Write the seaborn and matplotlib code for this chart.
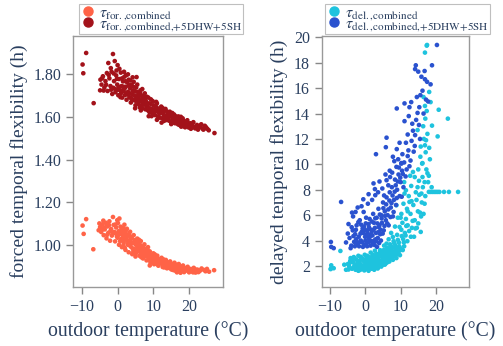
import matplotlib
matplotlib.use("Agg")
import pandas as pd
import matplotlib.pyplot as plt
import seaborn as sns
from matplotlib.lines import Line2D
from matplotlib.ticker import FormatStrFormatter

# forced flexibility (h) vs outdoor temperature (degC)
for_combined = [
    (-9.8, 1.092), (-8.8, 1.122), (-9.5, 1.053), (-6.8, 0.981), (-1.3, 1.132), (27.0, 0.883),
    (-4.9, 1.085), (-4.6, 1.062), (-4.2, 1.098), (-3.9, 1.047), (-3.6, 1.074), (-3.3, 1.105),
    (-3.1, 1.032), (-2.8, 1.088), (-2.6, 1.058), (-2.3, 1.112), (-2.1, 1.021), (-1.8, 1.076),
    (-1.6, 1.045), (-1.1, 1.095), (-0.9, 1.062), (-0.7, 1.018), (-0.4, 1.083), (-0.2, 1.041),
    (0.1, 1.104), (0.3, 1.066), (0.4, 1.002), (0.6, 1.052), (0.8, 1.087), (1.0, 1.029),
    (1.2, 0.991), (1.3, 1.071), (1.5, 1.043), (1.7, 1.012), (1.9, 1.096), (2.1, 1.058),
    (2.2, 0.978), (2.4, 1.034), (2.6, 1.077), (2.8, 1.005), (3.0, 1.049), (3.1, 0.967),
    (3.3, 1.021), (3.5, 1.063), (3.7, 0.993), (3.9, 1.038), (4.1, 0.958), (4.3, 1.011),
    (4.5, 1.047), (4.7, 0.982), (4.9, 1.024), (5.1, 0.962), (5.3, 0.998), (5.5, 1.031),
    (5.7, 0.973), (5.9, 1.008), (6.1, 0.951), (6.3, 0.987), (6.5, 1.019), (6.7, 0.962),
    (6.9, 0.994), (7.1, 0.938), (7.3, 0.975), (7.5, 1.004), (7.7, 0.951), (7.9, 0.982),
    (8.1, 0.929), (8.3, 0.963), (8.5, 0.991), (8.8, 0.942), (9.0, 0.971), (9.2, 0.918),
    (9.5, 0.953), (9.7, 0.934), (10.0, 0.962), (10.2, 0.911), (10.5, 0.944), (10.8, 0.926),
    (11.1, 0.951), (11.4, 0.904), (11.7, 0.932), (12.0, 0.917), (12.3, 0.941), (12.6, 0.898),
    (12.9, 0.925), (13.2, 0.909), (13.5, 0.931), (13.8, 0.892), (14.1, 0.916), (14.4, 0.903),
    (14.7, 0.924), (15.0, 0.887), (15.3, 0.911), (15.6, 0.897), (15.9, 0.918), (16.2, 0.881),
    (16.5, 0.904), (16.8, 0.891), (17.1, 0.912), (17.4, 0.877), (17.7, 0.898), (18.0, 0.886),
    (18.3, 0.905), (18.6, 0.874), (18.9, 0.893), (19.2, 0.882), (19.6, 0.899), (20.0, 0.873),
    (20.4, 0.889), (20.9, 0.878), (21.3, 0.894), (21.8, 0.872), (22.3, 0.886), (22.9, 0.879),
    (23.5, 0.891), (24.2, 0.884), (25.0, 0.889), (25.6, 0.876),
    (0.0, 1.035), (0.9, 1.061), (1.8, 1.025), (2.5, 1.048), (3.4, 1.042), (4.2, 0.985),
    (5.0, 1.006), (6.0, 0.978), (6.8, 0.981), (7.6, 0.962), (8.6, 0.952), (9.4, 0.938),
    (10.6, 0.929), (12.1, 0.927), (13.6, 0.913), (14.9, 0.906), (16.0, 0.895), (17.0, 0.884),
    (17.9, 0.893), (19.0, 0.887), (20.2, 0.884), (16.6, 0.873), (18.4, 0.879), (15.4, 0.885),
    (13.0, 0.896), (11.0, 0.915), (9.8, 0.948), (7.0, 0.955), (5.6, 0.983), (3.6, 1.028),
    (2.0, 1.040), (-0.5, 1.055), (-2.0, 1.067), (-3.0, 1.090), (-5.3, 1.070),
    (-4.4, 1.071), (-3.8, 1.083), (-2.9, 1.049), (-2.4, 1.094), (-1.4, 1.058), (-0.6, 1.097),
    (0.2, 1.048), (0.7, 1.019), (1.1, 1.082), (1.4, 1.057), (1.6, 0.998), (2.3, 1.068),
    (2.7, 1.021), (3.2, 1.053), (3.8, 1.009), (4.0, 1.031), (4.4, 0.972), (4.8, 1.008),
    (5.2, 1.017), (5.4, 0.969), (5.8, 0.992), (6.2, 1.003), (6.4, 0.968), (6.6, 0.944),
    (7.2, 0.989), (7.4, 0.946), (7.8, 0.968), (8.2, 0.948), (8.4, 0.977), (8.9, 0.931),
    (9.1, 0.957), (9.6, 0.925), (10.1, 0.939), (10.4, 0.957), (10.9, 0.912), (11.3, 0.937),
    (11.6, 0.921), (12.4, 0.912), (12.8, 0.934), (13.3, 0.899), (13.9, 0.921), (14.2, 0.894),
    (14.6, 0.912), (15.2, 0.898), (15.7, 0.883), (16.3, 0.909), (16.7, 0.886), (17.2, 0.897),
    (17.6, 0.871), (18.1, 0.899), (18.8, 0.881), (19.4, 0.892), (19.8, 0.879), (20.6, 0.881),
    (21.1, 0.873), (21.6, 0.888), (22.6, 0.874), (23.2, 0.883), (24.6, 0.878), (-5.1, 1.102),
    (-4.0, 1.115), (-0.1, 1.117), (0.5, 1.125), (1.6, 1.079), (3.0, 1.001), (2.0, 0.988),
    (6.0, 1.025), (9.0, 0.905), (5.0, 0.947),
]

for_combined_5 = [
    (-8.8, 1.900), (-9.8, 1.846), (-9.6, 1.805), (-6.7, 1.665), (-1.3, 1.895), (-0.8, 1.862),
    (-2.6, 1.853), (0.0, 1.843), (4.2, 1.786), (27.1, 1.525), (24.2, 1.546),
    (-4.8, 1.775), (-4.5, 1.752), (-4.1, 1.791), (-3.7, 1.738), (-3.4, 1.768), (-3.0, 1.806),
    (-2.8, 1.722), (-2.3, 1.781), (-2.0, 1.745), (-1.7, 1.812), (-1.5, 1.708), (-1.0, 1.768),
    (-0.7, 1.731), (-0.4, 1.795), (-0.1, 1.752), (0.2, 1.702), (0.4, 1.778), (0.6, 1.726),
    (0.9, 1.808), (1.1, 1.745), (1.3, 1.691), (1.5, 1.767), (1.7, 1.721), (1.9, 1.789),
    (2.1, 1.703), (2.3, 1.742), (2.5, 1.681), (2.7, 1.762), (2.9, 1.718), (3.1, 1.775),
    (3.3, 1.692), (3.5, 1.734), (3.7, 1.668), (3.9, 1.751), (4.1, 1.706), (4.4, 1.742),
    (4.6, 1.679), (4.8, 1.721), (5.0, 1.655), (5.2, 1.738), (5.4, 1.691), (5.6, 1.717),
    (5.8, 1.662), (6.0, 1.703), (6.2, 1.645), (6.4, 1.725), (6.6, 1.678), (6.8, 1.698),
    (7.0, 1.641), (7.2, 1.687), (7.4, 1.659), (7.6, 1.711), (7.8, 1.636), (8.0, 1.672),
    (8.3, 1.649), (8.6, 1.691), (8.9, 1.623), (9.2, 1.662), (9.5, 1.638), (9.8, 1.675),
    (10.1, 1.612), (10.4, 1.651), (10.7, 1.628), (11.0, 1.664), (11.3, 1.603), (11.6, 1.638),
    (11.9, 1.617), (12.2, 1.649), (12.5, 1.594), (12.8, 1.627), (13.1, 1.605), (13.4, 1.638),
    (13.7, 1.586), (14.0, 1.614), (14.3, 1.597), (14.6, 1.625), (14.9, 1.578), (15.2, 1.605),
    (15.5, 1.588), (15.8, 1.612), (16.1, 1.571), (16.4, 1.596), (16.7, 1.579), (17.0, 1.603),
    (17.3, 1.563), (17.6, 1.587), (17.9, 1.572), (18.2, 1.594), (18.5, 1.557), (18.8, 1.578),
    (19.1, 1.566), (19.5, 1.585), (19.9, 1.551), (20.3, 1.571), (20.7, 1.558), (21.2, 1.576),
    (21.7, 1.547), (22.2, 1.563), (22.8, 1.552), (23.4, 1.566), (24.0, 1.541), (24.7, 1.553),
    (25.5, 1.538),
    (0.0, 1.728), (1.0, 1.712), (2.0, 1.735), (3.0, 1.705), (4.0, 1.683), (5.0, 1.699),
    (6.1, 1.672), (7.1, 1.666), (8.1, 1.652), (9.0, 1.641), (10.2, 1.632), (11.5, 1.621),
    (12.9, 1.611), (14.2, 1.602), (15.4, 1.596), (16.5, 1.588), (17.5, 1.578), (18.6, 1.569),
    (19.7, 1.562), (13.0, 1.582), (15.0, 1.567), (17.8, 1.555), (11.0, 1.587), (9.5, 1.604),
    (6.5, 1.631), (3.6, 1.771), (1.6, 1.742), (-1.2, 1.737), (2.4, 1.796), (4.5, 1.765),
    (7.7, 1.684), (10.9, 1.646), (20.5, 1.545), (22.5, 1.541),
    (-4.3, 1.782), (-3.9, 1.724), (-3.2, 1.751), (-2.5, 1.797), (-1.8, 1.728), (-1.1, 1.804),
    (-0.6, 1.716), (-0.2, 1.779), (0.3, 1.741), (0.8, 1.693), (1.2, 1.781), (1.4, 1.725),
    (2.2, 1.768), (2.6, 1.712), (3.2, 1.749), (3.4, 1.711), (3.8, 1.689), (4.3, 1.723),
    (4.7, 1.701), (5.1, 1.676), (5.5, 1.752), (5.9, 1.688), (6.3, 1.711), (6.7, 1.654),
    (7.3, 1.701), (7.5, 1.671), (7.9, 1.658), (8.2, 1.695), (8.5, 1.631), (8.8, 1.664),
    (9.3, 1.683), (9.7, 1.619), (10.0, 1.655), (10.5, 1.609), (10.8, 1.671), (11.2, 1.632),
    (11.8, 1.597), (12.1, 1.631), (12.6, 1.642), (13.3, 1.597), (13.8, 1.626), (14.4, 1.583),
    (14.8, 1.608), (15.3, 1.619), (15.7, 1.574), (16.2, 1.604), (16.9, 1.566), (17.2, 1.592),
    (17.7, 1.601), (18.4, 1.583), (18.9, 1.552), (19.3, 1.574), (20.1, 1.563), (20.9, 1.568),
    (21.5, 1.553), (22.0, 1.549), (23.0, 1.559), (23.7, 1.547), (24.4, 1.559), (25.1, 1.545),
    (-1.9, 1.829), (-0.3, 1.818), (0.5, 1.826), (1.8, 1.812), (2.9, 1.800), (-4.9, 1.725),
    (5.3, 1.787), (6.9, 1.731), (8.7, 1.604), (12.3, 1.574), (4.9, 1.641),
]

# delayed flexibility (h) vs outdoor temperature (degC)
del_combined = [
    (-9.7, 1.82), (-9.0, 1.82), (-9.7, 2.05), (-9.9, 1.75), (-7.1, 3.18), (-4.3, 2.40),
    (-5.0, 2.15), (-4.6, 1.95), (-4.2, 2.62), (-3.8, 1.78), (-3.5, 2.30), (-3.1, 2.05),
    (-2.8, 1.70), (-2.5, 2.48), (-2.2, 1.92), (-1.9, 2.21), (-1.6, 1.68), (-1.3, 2.72),
    (-1.0, 2.02), (-0.8, 1.81), (-0.5, 2.38), (-0.3, 1.65), (0.0, 2.12), (0.2, 2.55),
    (0.4, 1.88), (0.6, 2.30), (0.8, 1.72), (1.0, 2.05), (1.2, 2.68), (1.4, 1.95),
    (1.6, 2.42), (1.8, 1.78), (2.0, 2.20), (2.2, 2.88), (2.4, 2.02), (2.6, 2.52),
    (2.8, 1.85), (3.0, 2.32), (3.2, 2.95), (3.4, 2.12), (3.6, 2.62), (3.8, 1.96),
    (4.0, 2.45), (4.2, 3.10), (4.4, 2.25), (4.6, 2.75), (4.8, 2.08), (5.0, 2.55),
    (5.2, 3.25), (5.4, 2.38), (5.6, 2.88), (5.8, 2.20), (6.0, 2.68), (6.2, 3.42),
    (6.4, 2.52), (6.6, 3.02), (6.8, 2.35), (7.0, 2.82), (7.2, 3.58), (7.4, 2.65),
    (7.6, 3.18), (7.8, 2.48), (8.0, 2.98), (8.2, 3.80), (8.4, 2.82), (8.6, 3.35),
    (8.8, 2.62), (9.0, 3.15), (9.2, 4.05), (9.4, 3.02), (9.6, 3.55), (9.8, 2.85),
    (10.0, 3.38), (10.3, 4.35), (10.6, 3.25), (10.9, 3.85),
    (-2.0, 1.62), (-0.1, 1.75), (0.9, 1.62), (2.5, 1.70), (3.5, 1.80), (-1.5, 2.45),
    (1.5, 2.25), (2.9, 2.60), (0.5, 2.80), (-3.3, 2.70), (4.5, 1.95), (5.5, 2.10),
    (16.1, 10.06), (18.0, 9.10), (15.2, 8.70), (14.3, 7.80), (11.5, 7.96), (11.1, 7.70),
    (12.5, 7.04), (8.8, 6.78), (10.2, 6.10), (11.5, 5.70), (15.7, 4.68), (9.7, 5.07),
    (7.8, 4.28), (6.0, 3.76), (4.2, 3.24),
    (18.0, 7.83), (18.5, 7.83), (19.0, 7.83), (19.5, 7.83), (20.0, 7.83), (20.5, 7.83),
    (21.0, 7.83), (22.3, 7.83), (23.7, 7.83), (26.3, 7.83),
    (17.5, 19.40), (17.4, 19.35), (16.9, 18.80), (23.4, 13.60), (20.8, 14.30), (20.5, 12.20),
    (17.1, 10.95), (18.1, 15.70), (18.5, 14.90), (16.9, 14.60), (16.4, 13.00), (18.9, 13.05),
    (14.8, 12.70), (15.7, 11.40), (18.1, 11.30), (16.2, 10.10), (17.6, 12.40), (17.0, 13.60),
    (16.6, 12.00), (18.3, 10.40), (17.4, 14.20), (16.5, 15.30),
    (12.0, 5.20), (12.8, 6.10), (13.2, 5.00), (13.6, 6.80), (14.0, 5.60), (14.5, 7.20),
    (14.9, 6.30), (15.3, 7.60), (15.8, 5.90), (16.3, 8.20), (16.8, 6.90), (17.3, 9.60),
    (13.0, 8.30), (14.0, 9.00), (15.0, 9.60), (12.3, 7.50), (11.8, 6.50), (10.8, 6.90),
    (10.5, 5.40), (11.2, 4.60), (13.8, 4.30), (14.6, 5.00), (16.0, 7.00), (9.2, 5.80),
    (8.4, 5.10), (7.3, 4.60), (6.6, 4.10), (5.3, 3.60), (12.7, 9.10), (11.0, 8.60),
    (17.8, 8.60), (16.9, 11.50),
    (-4.8, 1.72), (-4.4, 2.25), (-3.9, 2.48), (-3.4, 1.88), (-3.0, 2.58), (-2.6, 1.85),
    (-2.3, 2.22), (-1.8, 1.98), (-1.4, 2.15), (-1.1, 1.74), (-0.7, 2.55), (-0.4, 2.05),
    (-0.2, 2.88), (0.1, 1.82), (0.3, 2.32), (0.7, 2.08), (0.9, 2.62), (1.1, 1.85),
    (1.3, 2.35), (1.7, 2.05), (1.9, 2.72), (2.1, 1.92), (2.3, 2.45), (2.7, 2.18),
    (2.9, 2.05), (3.1, 2.72), (3.3, 1.90), (3.5, 2.42), (3.9, 2.25), (4.1, 2.82),
    (4.3, 2.05), (4.7, 2.38), (4.9, 2.95), (5.1, 2.28), (5.5, 2.68), (5.7, 3.05),
    (5.9, 2.45), (6.1, 3.15), (6.3, 2.30), (6.5, 2.85), (6.9, 2.62), (7.1, 3.28),
    (7.5, 2.95), (7.7, 3.45), (7.9, 2.75), (8.3, 3.12), (8.5, 3.62), (8.9, 3.38),
    (9.1, 2.95), (9.5, 3.85), (9.9, 3.25), (10.2, 4.85), (10.7, 4.12), (11.0, 3.55),
    (11.4, 4.40), (11.9, 3.95), (12.4, 4.75), (12.9, 4.30), (13.4, 5.55), (14.2, 4.95),
    (15.0, 5.35), (15.5, 6.20), (16.5, 6.10), (17.0, 7.50), (16.2, 9.00), (13.1, 7.10),
    (12.0, 6.30), (10.0, 5.80), (11.6, 5.15), (9.0, 4.45), (8.0, 3.95), (7.0, 3.70),
    (6.4, 3.35), (5.0, 3.05), (3.7, 2.85), (-6.0, 2.10), (-5.5, 1.70), (-2.0, 2.80),
    (1.5, 3.05), (2.7, 3.20), (17.6, 9.30), (18.8, 8.20), (16.8, 8.60), (15.9, 7.70),
    (14.8, 8.20), (13.5, 9.40), (15.6, 10.60), (17.2, 11.90),
]

del_combined_5 = [
    (-6.9, 7.04), (-9.8, 3.89), (-9.7, 3.50), (-9.0, 3.40),
    (-2.8, 6.25), (-0.5, 6.25), (2.3, 8.50), (2.8, 7.57), (6.0, 8.75), (6.9, 9.50),
    (8.8, 9.80), (10.2, 10.06),
    (-4.5, 4.20), (-4.0, 3.60), (-3.6, 4.80), (-3.2, 3.90), (-2.9, 4.50), (-2.5, 5.20),
    (-2.2, 3.70), (-1.9, 4.30), (-1.6, 5.60), (-1.3, 4.00), (-1.0, 4.70), (-0.7, 3.50),
    (-0.4, 5.10), (-0.1, 4.30), (0.2, 5.80), (0.4, 3.80), (0.6, 4.60), (0.9, 5.30),
    (1.1, 4.10), (1.3, 4.90), (1.5, 3.60), (1.8, 5.50), (2.0, 4.40), (2.2, 6.10),
    (2.5, 4.00), (2.7, 5.00), (3.0, 4.60), (3.2, 5.80), (3.5, 4.20), (3.7, 6.50),
    (4.0, 5.20), (4.2, 4.50), (4.5, 6.00), (4.7, 5.40), (5.0, 7.00), (5.2, 4.80),
    (5.5, 6.30), (5.8, 5.60), (6.0, 7.40), (6.3, 6.00), (6.6, 5.20), (6.9, 7.80),
    (7.2, 6.60), (7.5, 8.20), (7.8, 5.90), (8.1, 7.20), (8.4, 8.80), (8.7, 6.80),
    (9.0, 8.00), (9.4, 9.20), (9.7, 7.50), (10.0, 8.60), (10.4, 9.50), (10.8, 8.20),
    (0.0, 4.00), (0.5, 4.80), (1.0, 3.90), (1.6, 4.50), (2.1, 3.80), (2.9, 4.10),
    (3.3, 3.50), (-0.6, 4.60), (-1.5, 3.90), (-2.6, 4.10), (1.2, 5.70), (2.4, 5.40),
    (3.9, 3.80), (4.4, 4.00), (-3.5, 5.90), (-1.1, 6.70), (0.7, 6.90), (1.9, 7.20),
    (3.6, 7.80), (4.8, 8.10), (5.7, 9.20), (7.0, 9.00),
    (20.3, 19.40), (18.9, 17.80), (14.1, 17.50), (15.0, 17.30), (14.3, 17.80), (15.9, 16.90),
    (16.9, 16.70), (17.5, 16.50), (18.5, 16.30), (16.2, 15.80), (11.1, 14.80), (8.9, 14.40),
    (12.5, 14.50), (15.3, 14.50), (12.3, 13.80), (11.1, 13.40), (14.4, 13.50), (15.2, 13.10),
    (13.3, 13.20), (12.0, 12.35), (14.1, 12.30), (6.0, 12.10), (5.8, 11.35), (9.7, 11.70),
    (11.5, 11.70), (12.2, 11.10), (8.9, 11.20), (10.5, 10.80), (7.8, 10.60), (3.0, 10.80),
    (10.2, 10.10), (12.8, 10.30), (13.7, 11.00), (11.7, 9.60), (9.3, 10.40), (15.5, 12.00),
    (13.0, 14.90), (16.5, 14.00), (14.6, 15.30), (17.2, 15.10),
    (-4.2, 3.40), (-3.9, 5.05), (-3.4, 4.35), (-3.0, 3.55), (-2.7, 4.85), (-2.4, 3.85),
    (-2.0, 5.45), (-1.8, 3.55), (-1.4, 4.55), (-1.2, 5.25), (-0.9, 3.85), (-0.8, 4.95),
    (-0.3, 3.65), (-0.2, 4.85), (0.1, 5.35), (0.3, 4.45), (0.5, 3.55), (0.8, 4.25),
    (1.0, 5.05), (1.4, 4.35), (1.7, 3.95), (1.9, 4.75), (2.3, 4.85), (2.6, 3.65),
    (2.8, 5.75), (3.1, 3.95), (3.4, 5.35), (3.6, 4.65), (3.8, 5.05), (4.1, 6.05),
    (4.3, 4.85), (4.6, 5.75), (4.9, 4.55), (5.1, 6.55), (5.4, 5.15), (5.6, 5.95),
    (5.9, 6.85), (6.2, 5.35), (6.5, 6.45), (6.8, 7.15), (7.1, 5.85), (7.4, 6.95),
    (7.7, 7.55), (8.0, 6.25), (8.3, 7.85), (8.6, 8.35), (8.9, 7.35), (9.2, 8.65),
    (9.5, 9.75), (9.9, 8.95), (10.3, 7.45), (10.6, 9.25), (11.0, 10.15), (11.4, 9.05),
    (12.0, 10.65), (12.5, 9.85), (13.1, 11.85), (13.5, 12.65), (14.0, 11.45), (14.8, 14.05),
    (15.6, 15.45), (16.8, 17.35), (17.8, 14.95), (-3.8, 6.20), (-2.2, 6.60), (-0.6, 7.25),
    (0.9, 7.65), (2.7, 8.05), (4.0, 8.65), (5.3, 7.55), (6.5, 8.35), (7.6, 9.35),
    (8.2, 10.25), (-5.0, 4.55), (-5.5, 3.85), (-4.8, 5.30),
]

left_labels = [r"$\tau_{\mathrm{for.{,}combined}}$",
               r"$\tau_{\mathrm{for.{,}combined{,}{+}5DHW{+}5SH}}$"]
right_labels = [r"$\tau_{\mathrm{del.{,}combined}}$",
                r"$\tau_{\mathrm{del.{,}combined{,}{+}5DHW{+}5SH}}$"]
left_colors = ["#ff6347", "#a3121a"]
right_colors = ["#1ec3de", "#2a52cf"]

TXT = "#2a3f5f"
sns.set_style("white")
plt.rcParams["font.family"] = ["Liberation Serif", "DejaVu Serif"]
plt.rcParams["mathtext.fontset"] = "stix"


def to_frame(series, labels):
    parts = [pd.DataFrame(pts, columns=["temp", "flex"]).assign(series=lab)
             for pts, lab in zip(series, labels)]
    return pd.concat(parts, ignore_index=True)


df_left = to_frame([for_combined, for_combined_5], left_labels)
df_right = to_frame([del_combined, del_combined_5], right_labels)

fig = plt.figure(figsize=(5.03, 3.46), dpi=100)
ax1 = fig.add_axes([0.1457, 0.1697, 0.297, 0.726])
ax2 = fig.add_axes([0.6396, 0.1697, 0.2928, 0.726])

for ax, df, labels, colors, leg_x in [(ax1, df_left, left_labels, left_colors, 0.157),
                                      (ax2, df_right, right_labels, right_colors, 0.646)]:
    sns.scatterplot(data=df, x="temp", y="flex", hue="series", hue_order=labels,
                    palette=colors, s=11, linewidth=0, legend=False, ax=ax)
    ax.set_xlim(-12.4, 29.4)
    ax.set_xticks([-10, 0, 10, 20])
    ax.set_xlabel("outdoor temperature (°C)", fontsize=14.2, color=TXT, labelpad=4)
    ax.tick_params(direction="out", length=5, width=1, color="#888888",
                   labelcolor=TXT, labelsize=11.5, bottom=True, left=True)
    for sp in ax.spines.values():
        sp.set_color("#999999")
        sp.set_linewidth(1)
    handles = [Line2D([], [], marker="o", ls="", color=c, markersize=6.5) for c in colors]
    leg = ax.legend(handles, labels, loc="upper left", bbox_to_anchor=(leg_x, 0.989),
                    bbox_transform=fig.transFigure,
                    frameon=True, fancybox=False, edgecolor="#b0b0b0", fontsize=11.5,
                    handletextpad=0.2, borderpad=0.05, labelspacing=-0.4,
                    handlelength=1.0, borderaxespad=0)
    leg.get_frame().set_linewidth(0.8)
    for t in leg.get_texts():
        t.set_color(TXT)

ax1.set_ylim(0.803, 1.979)
ax1.set_yticks([1.0, 1.2, 1.4, 1.6, 1.8])
ax1.yaxis.set_major_formatter(FormatStrFormatter("%.2f"))
ax1.set_ylabel("forced temporal flexibility (h)", fontsize=14, color=TXT)

ax2.set_ylim(0.32, 20.1)
ax2.set_yticks(range(2, 21, 2))
ax2.set_ylabel("delayed temporal flexibility (h)", fontsize=14, color=TXT)

fig.savefig("out.png", dpi=100)
